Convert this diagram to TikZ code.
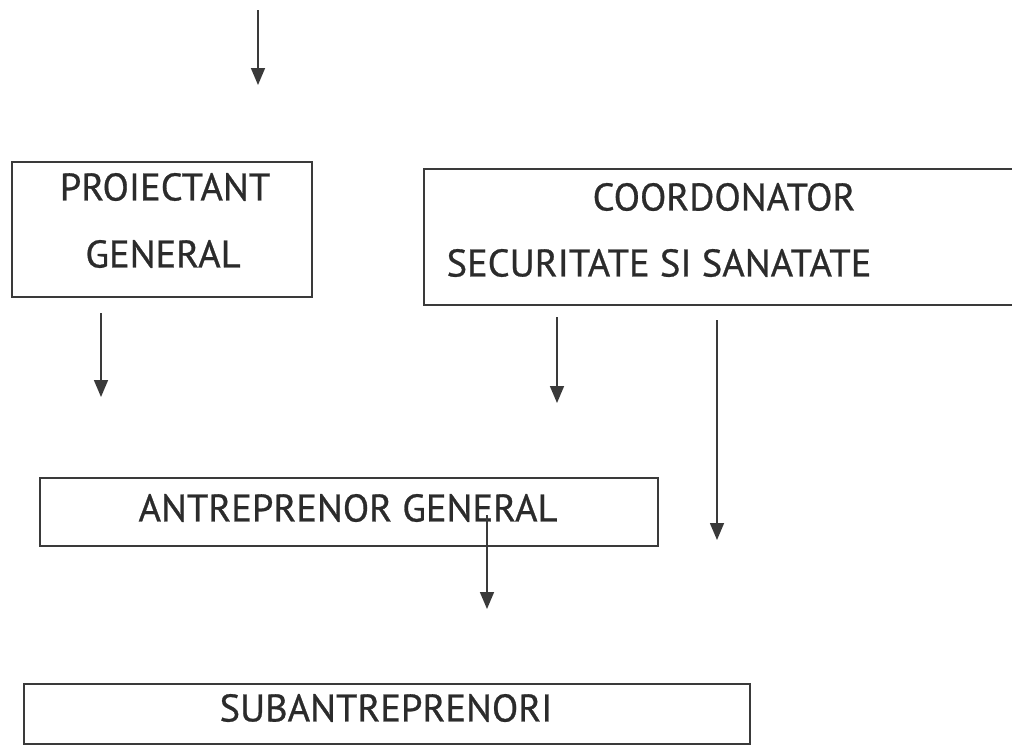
\documentclass[tikz,border=0pt]{standalone}
\usepackage{fontspec}
\setmainfont{PT Sans}[UprightFeatures={FakeBold=0.7}]
\usetikzlibrary{arrows.meta,positioning}

\definecolor{ink}{HTML}{3A3A3A}
\definecolor{txt}{HTML}{2B2B2B}

\begin{document}
\begin{tikzpicture}
	[x=1pt,y=-1pt,>={Triangle[width=14pt,length=17pt]},
		box/.style={draw=ink,line width=1.5pt,rectangle,inner sep=0pt},
		lbl/.style={text=txt,inner sep=0pt,font=\fontsize{38.5}{40}\selectfont},
		arr/.style={->,draw=ink,line width=1.6pt}]

	\useasboundingbox (0,0) rectangle (1012,747);

	% boxes
	\node[box, minimum width=300pt, minimum height=135pt] (proj)  at (162,229.5) {};
	\node[box, minimum width=592pt, minimum height=136pt] (coord) at (720,237)   {};
	\node[box, minimum width=618pt, minimum height=68pt]  (antr)  at (349,512)   {};
	\node[box, minimum width=726pt, minimum height=60pt]  (sub)   at (387,714)   {};

	% texts
	\node[lbl] (projA)  at (165,187) {PROIECTANT};
	\node[lbl] (projB)  at (163,254) {GENERAL};
	\node[lbl] (coordA) at (724,197) {COORDONATOR};
	\node[lbl] (coordB) at (659,263) {SECURITATE SI SANATATE};
	\node[lbl] (antrA)  at (348,508) {ANTREPRENOR GENERAL};
	\node[lbl] (subA)   at (386,708) {SUBANTREPRENORI};

	% free arrow ends
	\coordinate (t0) at (258,10);
	\coordinate (t1) at (258,85);
	\coordinate (p0) at (101,313);
	\coordinate (p1) at (101,397);
	\coordinate (c0) at (557,317);
	\coordinate (c1) at (557,403);
	\coordinate (d0) at (717,320);
	\coordinate (d1) at (717,540);
	\coordinate (a0) at (487,515);
	\coordinate (a1) at (487,609);

	\path
	(t0) edge [arr] (t1)
	(p0) edge [arr] (p1)
	(c0) edge [arr] (c1)
	(d0) edge [arr] (d1)
	(a0) edge [arr] (a1)
	;

\end{tikzpicture}
\end{document}
